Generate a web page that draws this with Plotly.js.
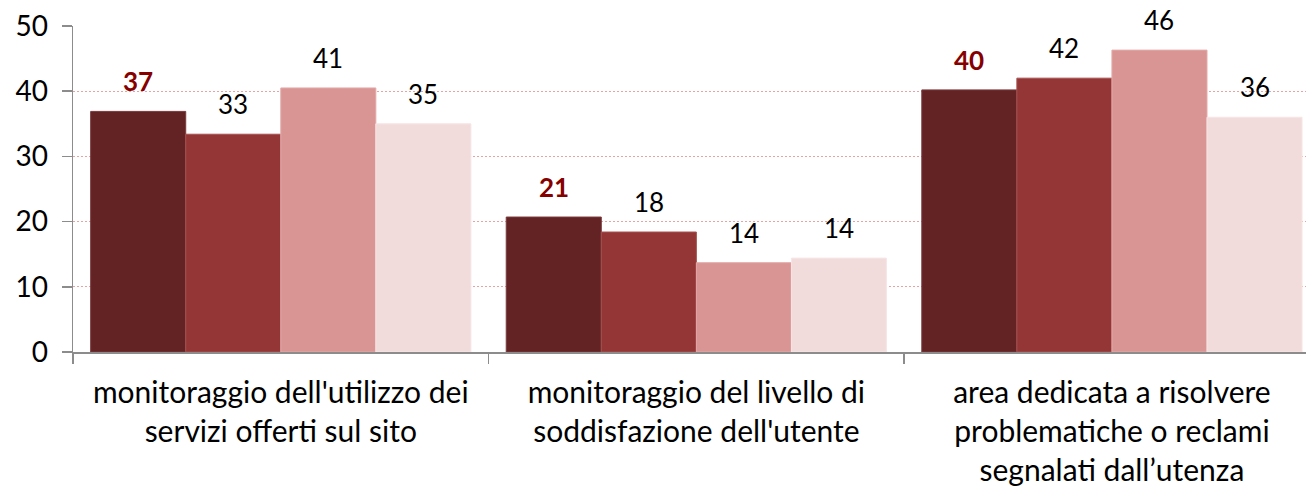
<!DOCTYPE html>
<html>
<head>
<meta charset="utf-8">
<script src="https://cdn.plot.ly/plotly-3.0.1.min.js"></script>
<style>html,body{margin:0;padding:0;background:#fff;}#chart{width:1306px;height:487px;}</style>
</head>
<body>
<div id="chart"></div>
<script>
// Data
const categories = [
  "monitoraggio dell'utilizzo dei<br>servizi offerti sul sito",
  "monitoraggio del livello di<br>soddisfazione dell'utente",
  "area dedicata a risolvere<br>problematiche o reclami<br>segnalati dall’utenza"
];
const series1 = [36.9, 20.7, 40.2];
const series2 = [33.4, 18.4, 42.0];
const series3 = [40.5, 13.7, 46.3];
const series4 = [35.0, 14.4, 36.0];
const seriesNames = ["Serie 1", "Serie 2", "Serie 3", "Serie 4"];
const yTicks = [0, 10, 20, 30, 40, 50];

const allSeries = [series1, series2, series3, series4];
const colors = ["#632325", "#943636", "#D99594", "#F2DBDB"];
const lineColors = ["#7a3a3c", "#a65050", "#e3aaa9", "#f7e6e6"];
const bargap = 0.085;
const FONT = "Lato, 'Open Sans', sans-serif";

const traces = allSeries.map((vals, k) => ({
  type: 'bar',
  name: seriesNames[k],
  x: categories,
  y: vals,
  marker: {color: colors[k], line: {color: lineColors[k], width: 1}},
  hoverinfo: 'x+y'
}));

const w = (1 - bargap) / allSeries.length;
const annotations = [];
allSeries.forEach((vals, k) => {
  vals.forEach((v, i) => {
    const bold = k === 0;
    annotations.push({
      x: i + (k - (allSeries.length - 1) / 2) * w,
      y: v,
      xref: 'x', yref: 'y',
      text: bold ? '<b>' + Math.round(v) + '</b>' : String(Math.round(v)),
      showarrow: false,
      yanchor: 'bottom',
      yshift: 12,
      font: {family: FONT, size: 26, color: bold ? '#860000' : '#000000'}
    });
  });
});

const layout = {
  width: 1306, height: 487,
  margin: {l: 73, r: 0, t: 26, b: 135},
  paper_bgcolor: '#ffffff', plot_bgcolor: '#ffffff',
  showlegend: false,
  barmode: 'group',
  bargap: bargap, bargroupgap: 0,
  xaxis: {
    type: 'category',
    range: [-0.5, 2.467],
    showline: true, linecolor: '#8C8C8C', linewidth: 1.5,
    ticks: 'outside', tickson: 'boundaries', ticklen: 10, tickcolor: '#8C8C8C', tickwidth: 1.5,
    showgrid: false,
    tickfont: {family: FONT, size: 30, color: '#000'},
    tickangle: 0,
    ticklabelstandoff: 13,
    automargin: false
  },
  yaxis: {
    range: [0, 50],
    tickvals: yTicks,
    showline: true, linecolor: '#8C8C8C', linewidth: 1.5,
    ticks: 'outside', ticklen: 10, tickcolor: '#8C8C8C', tickwidth: 1.5,
    showgrid: true, gridcolor: '#E8A2A2', griddash: '2px,2px', gridwidth: 1,
    zeroline: false,
    tickfont: {family: FONT, size: 28, color: '#000'},
    ticklabelstandoff: 8,
    automargin: false
  },
  annotations: annotations
};

Plotly.newPlot('chart', traces, layout, {displayModeBar: false, staticPlot: true});
</script>
</body>
</html>
